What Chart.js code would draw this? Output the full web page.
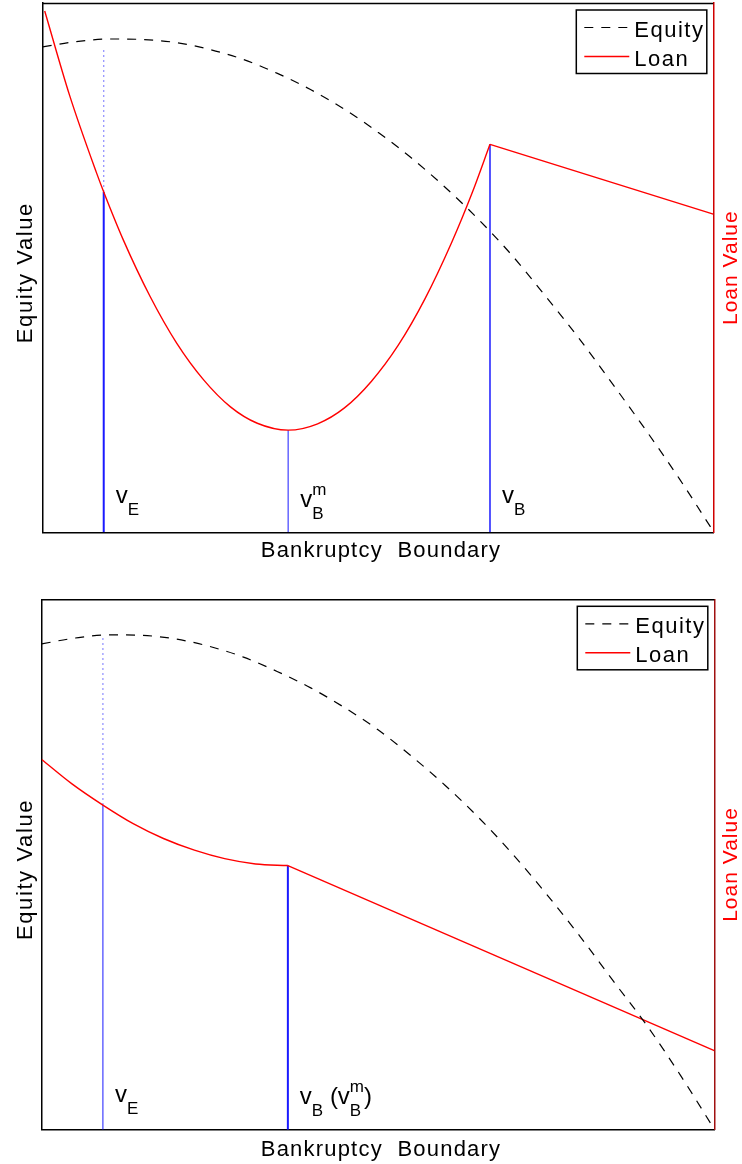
<!DOCTYPE html>
<html>
<head>
<meta charset="utf-8">
<script src="https://cdn.jsdelivr.net/npm/chart.js@4.4.0/dist/chart.umd.min.js"></script>
<style>
  body { margin: 0; background: #fff; }
  canvas { display: block; }
</style>
</head>
<body>
<canvas id="topChart" width="742" height="582"></canvas>
<canvas id="bottomChart" width="742" height="582"></canvas>
<script>

	/* ================= Data ================= */

	// upper panel
	var topEquityX = [0, 5, 10, 15, 20, 25, 30, 35, 40, 45, 50, 55, 60, 65, 70, 75, 80, 85, 90, 95, 100];
	var topEquityY = [91.7, 92.7, 93.2, 93.1, 92.5, 91.2, 89.3, 86.7, 83.6, 79.9, 75.6, 70.7, 65.2, 59.1, 52.3, 44.6, 36.6, 28.0, 19.2, 10.0, 0.2];
	var topLoanX = [0.3, 4, 8, 9.1, 12, 16, 20, 24, 28, 32, 36.6, 41, 45, 49, 53, 57, 61, 64, 66.7];
	var topLoanY = [98.5, 82.6, 68.0, 64.3, 55.3, 44.6, 35.7, 28.8, 23.7, 20.6, 19.3, 20.5, 23.5, 28.5, 35.3, 44.1, 54.8, 64.0, 73.3];
	var topLoanTailX = [66.7, 100];
	var topLoanTailY = [73.3, 60.1];
	var topMarkerX = [9.1, 36.6, 66.7];
	var topMarkerY = [64.3, 19.3, 73.3];
	var topDottedY = [64.3, 91.5];

	// lower panel
	var botEquityX = [0, 5, 10, 15, 20, 25, 30, 35, 40, 45, 50, 55, 60, 65, 70, 75, 80, 85, 90, 95, 100];
	var botEquityY = [91.6, 92.7, 93.3, 93.2, 92.5, 91.1, 89.1, 86.4, 83.3, 79.6, 75.4, 70.4, 64.9, 58.8, 52.0, 44.5, 36.5, 28.0, 19.6, 10.2, 0.1];
	var botLoanX = [0, 4.5, 9.1, 13.6, 18.1, 22.7, 27.2, 31.8, 36.6];
	var botLoanY = [69.8, 65.2, 61.2, 57.7, 54.9, 52.7, 51.1, 50.1, 49.8];
	var botLoanTailX = [36.6, 100];
	var botLoanTailY = [49.8, 14.9];
	var botMarkerX = [9.1, 36.6];
	var botMarkerY = [61.2, 49.8];
	var botDottedY = [61.2, 92.9];

	var seriesNames = ['Equity', 'Loan'];

	/* ================= Helpers ================= */

	var FONT = '"Liberation Sans", Arial, Helvetica, sans-serif';

	function pts(xs, ys) {
		return xs.map(function(x, i) {
			return {x: x, y: ys[i]};
		});
	}

	function drawRich(ctx, x, y, segs) {
		segs.forEach(function(s) {
			if (s.t) {
				ctx.font = '24px ' + FONT;
				ctx.fillText(s.t, x, y);
				x += ctx.measureText(s.t).width;
			} else {
				ctx.font = '17px ' + FONT;
				var w = 0;
				if (s.sub) {
					ctx.fillText(s.sub, x, y + 12);
					w = ctx.measureText(s.sub).width;
				}
				if (s.sup) {
					ctx.fillText(s.sup, x, y - 12);
					w = Math.max(w, ctx.measureText(s.sup).width);
				}
				x += w;
			}
		});
	}

	// frame top, axis titles, v labels and the boxed legend
	var decor = {
		id: 'decor',
		afterDraw: function(chart, args, opts) {
			var ctx = chart.ctx;
			var a = chart.chartArea;
			var xs = chart.scales.x;
			var midY = (a.top + a.bottom) / 2;
			ctx.save();

			ctx.strokeStyle = '#000';
			ctx.lineWidth = 1.5;
			ctx.beginPath();
			ctx.moveTo(a.left, a.top + 0.5);
			ctx.lineTo(a.right, a.top + 0.5);
			ctx.stroke();

			ctx.fillStyle = '#000';
			ctx.textBaseline = 'alphabetic';
			ctx.textAlign = 'center';
			ctx.font = '22px ' + FONT;
			ctx.letterSpacing = '1.2px';
			ctx.fillText('Bankruptcy  Boundary', (a.left + a.right) / 2 + 3, a.bottom + opts.xTitleGap);

			ctx.save();
			ctx.translate(32, midY + 5);
			ctx.rotate(-Math.PI / 2);
			ctx.letterSpacing = '1.6px';
			ctx.fillText('Equity Value', 0, 0);
			ctx.restore();

			ctx.save();
			ctx.translate(737, midY);
			ctx.rotate(-Math.PI / 2);
			ctx.fillStyle = '#ff0000';
			ctx.font = '21px ' + FONT;
			ctx.letterSpacing = '1px';
			ctx.fillText('Loan Value', 0, 0);
			ctx.restore();

			ctx.letterSpacing = '0px';
			ctx.textAlign = 'left';
			opts.labels.forEach(function(l) {
				var px = xs.getPixelForValue(opts.markers[l.at]) + 12;
				drawRich(ctx, px, a.bottom + l.dy, l.segs);
			});

			// legend
			var bx = a.right - 137, by = a.top + 7, bw = 130.5, bh = 63.5;
			ctx.fillStyle = '#fff';
			ctx.fillRect(bx, by, bw, bh);
			ctx.strokeStyle = '#000';
			ctx.lineWidth = 1.5;
			ctx.strokeRect(bx, by, bw, bh);
			var items = chart.data.datasets.filter(function(d) { return d.inLegend; });
			items.forEach(function(d, i) {
				var ly = by + 17.5 + i * 29;
				ctx.strokeStyle = d.borderColor;
				ctx.lineWidth = d.borderWidth;
				ctx.setLineDash(d.borderDash || []);
				ctx.beginPath();
				ctx.moveTo(bx + 8, ly);
				ctx.lineTo(bx + 53, ly);
				ctx.stroke();
				ctx.setLineDash([]);
				ctx.fillStyle = '#000';
				ctx.font = '22px ' + FONT;
				ctx.letterSpacing = '1.5px';
				ctx.fillText(d.label, bx + 58, by + 26.8 + i * 29);
			});
			ctx.restore();
		}
	};

	function makeChart(id, cfg) {
		var datasets = [{
			label: seriesNames[0],
			data: pts(cfg.equityX, cfg.equityY),
			yAxisID: 'y',
			borderColor: '#000000',
			borderWidth: 1.2,
			borderDash: [9, 8],
			cubicInterpolationMode: 'monotone',
			inLegend: true
		}, {
			label: seriesNames[1],
			data: pts(cfg.loanX, cfg.loanY),
			yAxisID: 'y1',
			borderColor: '#ff0000',
			borderWidth: 1.4,
			cubicInterpolationMode: 'monotone',
			inLegend: true
		}, {
			label: seriesNames[1] + ' (tail)',
			data: pts(cfg.tailX, cfg.tailY),
			yAxisID: 'y1',
			borderColor: '#ff0000',
			borderWidth: 1.4
		}];

		cfg.markerX.forEach(function(mx, i) {
			datasets.push({
				label: 'marker ' + i,
				data: pts([mx, mx], [0, cfg.markerY[i]]),
				yAxisID: 'y1',
				borderColor: '#1a1aff',
				borderWidth: cfg.markerW[i]
			});
		});

		datasets.push({
			label: 'dotted',
			data: pts([cfg.markerX[0], cfg.markerX[0]], cfg.dottedY),
			yAxisID: 'y1',
			borderColor: '#8c8cff',
			borderWidth: 1.2,
			borderDash: [2, 3]
		});

		return new Chart(document.getElementById(id), {
			type: 'line',
			data: {datasets: datasets},
			options: {
				responsive: false,
				animation: false,
				events: [],
				layout: {padding: {top: cfg.padTop, left: 0, right: 0, bottom: 0}},
				elements: {point: {radius: 0}, line: {tension: 0}},
				plugins: {
					legend: {display: false},
					tooltip: {enabled: false},
					decor: {
						xTitleGap: cfg.xTitleGap,
						markers: cfg.markerX,
						labels: cfg.labels
					}
				},
				scales: {
					x: {
						type: 'linear', min: 0, max: 100,
						ticks: {display: false},
						grid: {display: false},
						border: {color: '#000', width: 1.5},
						afterFit: function(s) { s.height = cfg.xAxisH; }
					},
					y: {
						position: 'left', min: 0, max: 100,
						ticks: {display: false},
						grid: {display: false},
						border: {color: '#000', width: 1.5},
						afterFit: function(s) { s.width = cfg.leftW; }
					},
					y1: {
						position: 'right', min: 0, max: 100,
						ticks: {display: false},
						grid: {display: false},
						border: {color: cfg.rightColor, width: 1.5},
						afterFit: function(s) { s.width = cfg.rightW; }
					}
				}
			},
			plugins: [decor]
		});
	}

	/* ================= On start ================= */

	makeChart('topChart', {
		equityX: topEquityX, equityY: topEquityY,
		loanX: topLoanX, loanY: topLoanY,
		tailX: topLoanTailX, tailY: topLoanTailY,
		markerX: topMarkerX, markerY: topMarkerY, markerW: [2, 1, 1.5],
		dottedY: topDottedY,
		padTop: 3, xAxisH: 49.7, leftW: 42.7, rightW: 28.7,
		rightColor: '#d00000',
		xTitleGap: 24.5,
		labels: [
			{at: 0, dy: -29.3, segs: [{t: 'v'}, {sub: 'E'}]},
			{at: 1, dy: -25.3, segs: [{t: 'v'}, {sub: 'B', sup: 'm'}]},
			{at: 2, dy: -29.3, segs: [{t: 'v'}, {sub: 'B'}]}
		]
	});

	makeChart('bottomChart', {
		equityX: botEquityX, equityY: botEquityY,
		loanX: botLoanX, loanY: botLoanY,
		tailX: botLoanTailX, tailY: botLoanTailY,
		markerX: botMarkerX, markerY: botMarkerY, markerW: [1, 2],
		dottedY: botDottedY,
		padTop: 17.3, xAxisH: 34.3, leftW: 41.7, rightW: 27.7,
		rightColor: '#a01010',
		xTitleGap: 26.3,
		labels: [
			{at: 0, dy: -28, segs: [{t: 'v'}, {sub: 'E'}]},
			{at: 1, dy: -25.4, segs: [{t: 'v'}, {sub: 'B'}, {t: ' ('}, {t: 'v'}, {sub: 'B', sup: 'm'}, {t: ')'}]}
		]
	});

</script>
</body>
</html>
